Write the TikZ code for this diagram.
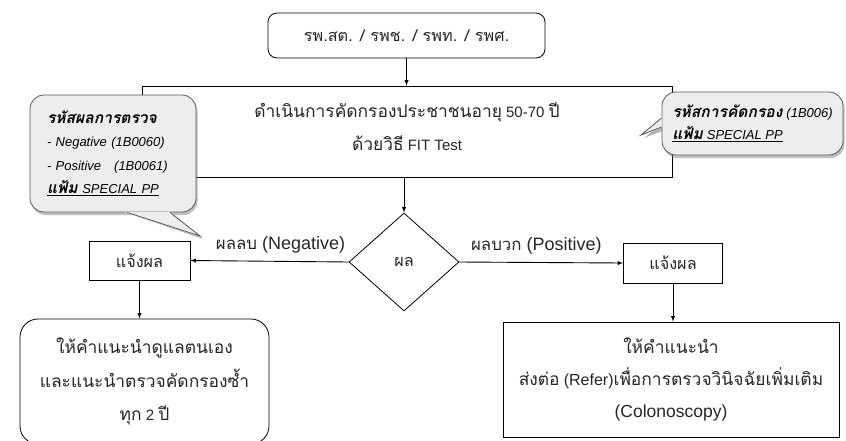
\documentclass[tikz,border=0pt]{standalone}
\usepackage{fontspec}
\setmainfont{Liberation Sans}
\newfontfamily\thaifont[Script=Thai,Scale=1.16]{Loma}
\newfontfamily\thainote[Script=Thai,Scale=1.2]{Loma}
\newcommand\tha[1]{{\thaifont #1}}
\newcommand\thn[1]{{\thainote #1}}
\usetikzlibrary{arrows,shapes.geometric,shadows}

\definecolor{notegray}{gray}{0.93}
\definecolor{noteline}{gray}{0.35}
\definecolor{inkgray}{gray}{0.15}

\tikzset{
  sbox/.style={draw,line width=0.8pt,fill=white,text=inkgray,align=center,
    font=\fontsize{15}{18}\selectfont},
  rbox/.style={sbox,rounded corners=9pt},
  note/.style={draw=noteline,line width=0.8pt,fill=notegray,rounded corners=14pt,
    align=left,text=black,font=\fontsize{13}{23.5}\selectfont,
    drop shadow={shadow xshift=1.5pt,shadow yshift=-3pt,opacity=0.5}},
  arr/.style={-latex,line width=0.9pt},
  lbl/.style={text=inkgray,font=\fontsize{18}{20}\selectfont},
}

\begin{document}
\begin{tikzpicture}[x=1pt,y=-1pt]
\clip (0,0) rectangle (846,440);

% main flow
\node[rbox,minimum width=277pt,minimum height=45pt,font=\fontsize{14}{16}\selectfont] (src) at (406.5,35.5)
  {\tha{รพ.สต. / รพช. / รพท. / รพศ.}};
\node[sbox,minimum width=530pt,minimum height=91pt] (screen) at (407,131.5) {};
\node[text=inkgray,align=center,font=\fontsize{15}{33}\selectfont] (screentext) at (407,126.5)
  {\tha{ดำเนินการคัดกรองประชาชนอายุ} 50-70 \tha{ปี}\\\tha{ด้วยวิธี} FIT Test};
\node[diamond,draw,line width=0.8pt,minimum width=110pt,minimum height=98pt,inner sep=0pt,
  text=inkgray,font=\fontsize{14}{16}\selectfont] (res) at (404,262) {\tha{ผล}};
\node[sbox,minimum width=101pt,minimum height=39pt,font=\fontsize{14}{16}\selectfont] (negbox) at (139.5,260.5) {\tha{แจ้งผล}};
\node[sbox,minimum width=99pt,minimum height=40pt,font=\fontsize{14}{16}\selectfont] (posbox) at (673,263) {\tha{แจ้งผล}};
\node[rbox,rounded corners=18pt,minimum width=249pt,minimum height=125pt,
  font=\fontsize{15}{33.5}\selectfont] (negadv) at (144.5,381.5)
  {\tha{ให้คำแนะนำดูแลตนเอง}\\\tha{และแนะนำตรวจคัดกรองซ้ำ}\\\tha{ทุก} 2 \tha{ปี}};
\node[sbox,minimum width=336pt,minimum height=115pt,font=\fontsize{15}{32}\selectfont] (posadv) at (671,379.5)
  {\tha{ให้คำแนะนำ}\\\tha{ส่งต่อ} {\fontsize{16}{32}\selectfont(Refer)}\tha{เพื่อการตรวจวินิจฉัยเพิ่มเติม}\\
   {\fontsize{17.5}{32}\selectfont(Colonoscopy)}};

\draw[arr] (src.south) -- (src.south |- screen.north);
\draw[arr] (res.north |- screen.south) -- (res.north);
\draw[arr] (res.west) -- node[lbl,above=4pt,pos=0.43]
  {{\fontsize{14.5}{20}\selectfont\tha{ผลลบ}} (Negative)} (negbox.east);
\draw[arr] (res.east) -- node[lbl,above=4pt,pos=0.47]
  {{\fontsize{14.5}{20}\selectfont\tha{ผลบวก}} (Positive)} (posbox.west);
\draw[arr] (negbox.south) -- (negbox.south |- negadv.north);
\draw[arr] (posbox.south) -- (posbox.south |- posadv.north);

% left note
\coordinate (negtip) at (200,236);
\fill[black,opacity=0.3] (130,214) -- (203,239) -- (173,214) -- cycle;
\node[note,minimum width=166pt,minimum height=117pt,text width=132pt] (negnote) at (113,153.5)
  {\textbf{\textit{\thn{รหัสผลการตรวจ}}}\\
   \textit{- Negative (1B0060)}\\
   \textit{- Positive \ \ (1B0061)}\\
   \underline{\textbf{\textit{\thn{แฟ้ม}}} \textit{SPECIAL PP}}};
\filldraw[fill=notegray,draw=notegray,line width=1.2pt]
  ([xshift=14pt]negnote.south) -- (negtip) -- ([xshift=57pt]negnote.south) -- cycle;
\draw[noteline,line width=0.8pt] ([xshift=14pt]negnote.south) -- (negtip) -- ([xshift=57pt]negnote.south);

% right note
\coordinate (scrtip) at (641,135);
\fill[black,opacity=0.3] (665,121) -- (644,138) -- (665,130) -- cycle;
\node[note,minimum width=181pt,minimum height=63pt,font=\fontsize{13}{22}\selectfont] (scrnote) at (752.5,123.5)
  {\textbf{\textit{\thn{รหัสการคัดกรอง}}} \textit{(1B006)}\\
   \underline{\textbf{\textit{\thn{แฟ้ม}}} \textit{SPECIAL PP}}};
\filldraw[fill=notegray,draw=notegray,line width=1.2pt]
  ([yshift=5.5pt]scrnote.west) -- (scrtip) -- ([yshift=-3.5pt]scrnote.west) -- cycle;
\draw[noteline,line width=0.8pt] ([yshift=5.5pt]scrnote.west) -- (scrtip) -- ([yshift=-3.5pt]scrnote.west);
\end{tikzpicture}
\end{document}
